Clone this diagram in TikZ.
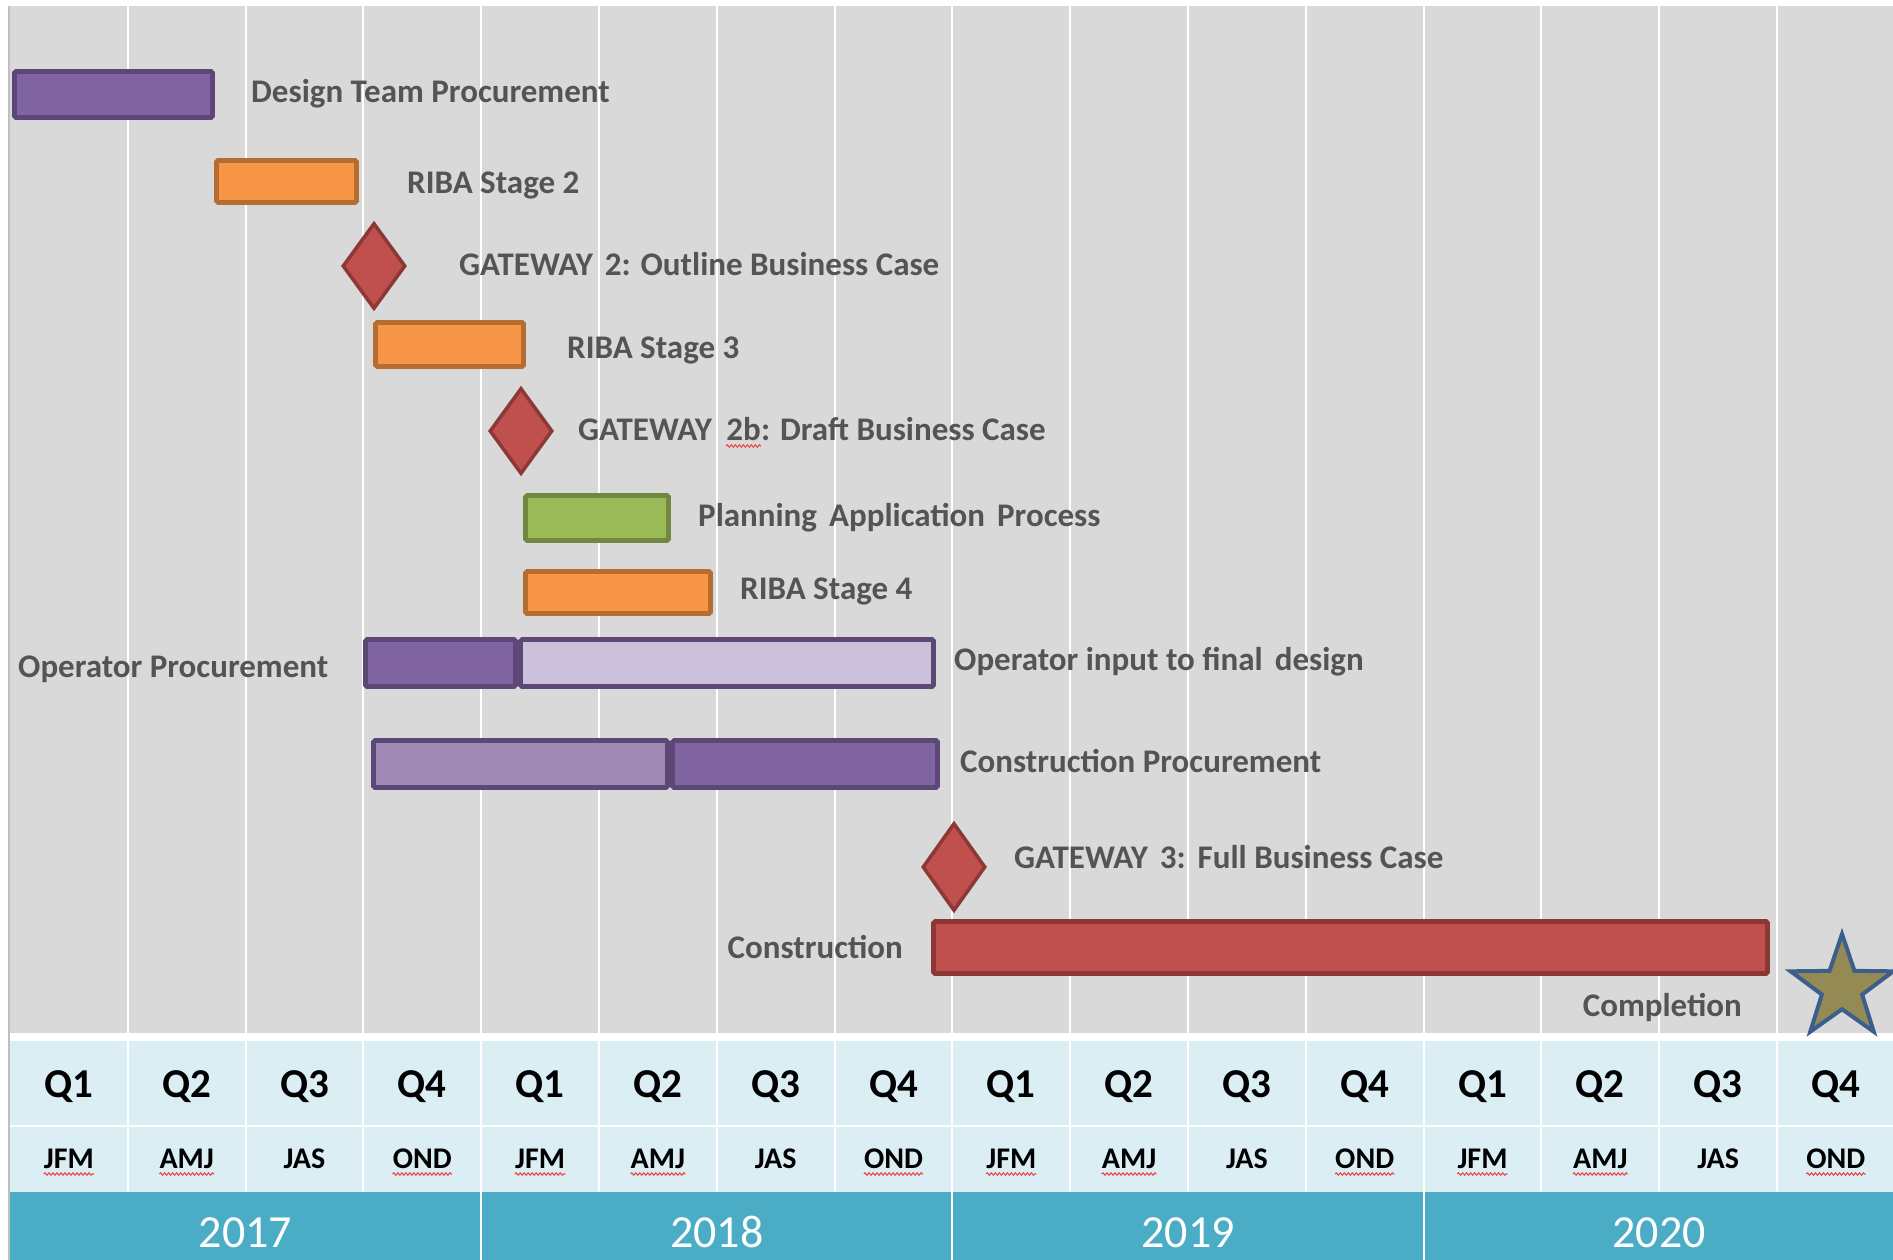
\documentclass[tikz,border=0pt]{standalone}
\usepackage{fontspec}
\setmainfont{Carlito}
\usetikzlibrary{shapes.geometric,decorations.pathmorphing}
\definecolor{bggray}{HTML}{D9D9D9}
\definecolor{edgegray}{HTML}{BFBFBF}
\definecolor{txtgray}{HTML}{545454}
\definecolor{purp}{HTML}{8064A2}
\definecolor{purpdk}{HTML}{5C4776}
\definecolor{purplt}{HTML}{CCC1DA}
\definecolor{purpmd}{HTML}{9E8AB5}
\definecolor{orng}{HTML}{F79646}
\definecolor{orngdk}{HTML}{B66D31}
\definecolor{grn}{HTML}{9BBB59}
\definecolor{grndk}{HTML}{71893F}
\definecolor{rd}{HTML}{C0504D}
\definecolor{rddk}{HTML}{8C3836}
\definecolor{olive}{HTML}{948A54}
\definecolor{starblue}{HTML}{3C5E8C}
\definecolor{hdrlt}{HTML}{DBEEF4}
\definecolor{hdryr}{HTML}{4BACC6}
\definecolor{spell}{HTML}{E8484A}
\begin{document}
\begin{tikzpicture}[x=1pt,y=-1pt,
  gantbar/.style={draw, line width=4.6pt, rounded corners=1.5pt, inner sep=0pt, rectangle},
  purpbar/.style={gantbar, fill=purp, draw=purpdk},
  orngbar/.style={gantbar, fill=orng, draw=orngdk},
  gate/.style={shape=diamond, draw=rddk, fill=rd, line width=3.5pt, inner sep=0pt, minimum width=63pt, minimum height=86pt},
  lbl/.style={anchor=base west, inner sep=0pt, text=txtgray, font=\fontsize{33}{39}\selectfont\bfseries},
  qlbl/.style={anchor=base, inner sep=0pt, text=black, font=\fontsize{41}{46}\selectfont\bfseries},
  mlbl/.style={anchor=base, inner sep=0pt, text=black, font=\fontsize{30}{34}\selectfont\bfseries},
  ylbl/.style={anchor=base, inner sep=0pt, text=white, font=\fontsize{46}{52}\selectfont},
  gridline/.style={draw=white, line width=2pt},
  wavy/.style={draw=spell, line width=1.1pt, decorate, decoration={snake, amplitude=1.2pt, segment length=4pt}}
]
\useasboundingbox (0,0) rectangle (1893,1260);
\fill[white] (0,0) rectangle (1893,1260);
% chart area
\fill[bggray] (8,6) rectangle (1893,1033);
\foreach \k in {1,...,15}
  \draw[gridline] ({10+117.8*\k},6) -- ({10+117.8*\k},1033);
% header
\fill[hdrlt] (10,1041) rectangle (1893,1192);
\draw[gridline] (10,1126) -- (1893,1126);
\foreach \k in {1,...,15}
  \draw[gridline] ({10+117.8*\k},1041) -- ({10+117.8*\k},1192);
\fill[hdryr] (10,1192) rectangle (1893,1260);
\foreach \k in {4,8,12}
  \draw[gridline] ({10+117.8*\k},1192) -- ({10+117.8*\k},1260);
\draw[edgegray, line width=2pt] (9,6) -- (9,1260);
% quarter and month labels
\foreach \k/\q/\m/\w in {0/Q1/JFM/1,1/Q2/AMJ/1,2/Q3/JAS/0,3/Q4/OND/1,
                         4/Q1/JFM/1,5/Q2/AMJ/1,6/Q3/JAS/0,7/Q4/OND/1,
                         8/Q1/JFM/1,9/Q2/AMJ/1,10/Q3/JAS/0,11/Q4/OND/1,
                         12/Q1/JFM/1,13/Q2/AMJ/1,14/Q3/JAS/0,15/Q4/OND/1}{
  \node[qlbl] (q\k) at ({10+117.8*(\k+0.5)},1097) {\q};
  \node[mlbl] (m\k) at ({10+117.8*(\k+0.5)},1168) {\m};
  \ifnum\w=1
    \draw[wavy] ([yshift=-6pt]m\k.base west) -- ([yshift=-6pt]m\k.base east);
  \fi
}
\foreach \k/\y in {0/2017,1/2018,2/2019,3/2020}
  \node[ylbl] (y\y) at ({10+471.2*(\k+0.5)},1247) {\y};
% bars
\node[purpbar, minimum width=198pt, minimum height=46pt] (dtp) at (113.5,94.5) {};
\node[lbl] (dtpl) at (251,103) {Design Team Procurement};
\node[orngbar, minimum width=140pt, minimum height=42pt] (riba2) at (286.5,181.5) {};
\node[lbl] (riba2l) at (407,194) {RIBA Stage 2};
\node[gate] (gw2) at (374,266) {};
\node[lbl] (gw2l) at (459,275) {GATEWAY\hspace{12pt}2: Outline Business Case};
\node[orngbar, minimum width=148pt, minimum height=44pt] (riba3) at (449.5,344.5) {};
\node[lbl] (riba3l) at (567,358) {RIBA Stage 3};
\node[gate] (gw2b) at (521,431) {};
\node[lbl] (gw2bl) at (578,440) {GATEWAY\hspace{14pt}\strut};
\node[lbl] (gw2bn) at (gw2bl.base east) {2b};
\node[lbl] (gw2br) at (gw2bn.base east) {: Draft Business Case};
\draw[wavy] ([yshift=-6pt]gw2bn.base west) -- ([yshift=-6pt]gw2bn.base east);
\node[gantbar, fill=grn, draw=grndk, minimum width=143pt, minimum height=45pt] (pap) at (597,518) {};
\node[lbl] (papl) at (698,526) {Planning\hspace{12pt}Application\hspace{12pt}Process};
\node[orngbar, minimum width=185pt, minimum height=42pt] (riba4) at (618,592.5) {};
\node[lbl] (riba4l) at (740,599) {RIBA Stage 4};
\node[purpbar, fill=purplt, minimum width=413pt, minimum height=47pt] (opB) at (727,663) {};
\node[purpbar, minimum width=150pt, minimum height=47pt] (opA) at (440.5,663) {};
\node[lbl] (opAl) at (18,677) {Operator Procurement};
\node[lbl] (opBl) at (954,670.5) {Operator input to final\hspace{12pt}design};
\node[purpbar, minimum width=265pt, minimum height=47pt] (cpB) at (805,764) {};
\node[purpbar, fill=purpmd, minimum width=294pt, minimum height=47pt] (cpA) at (520.5,764) {};
\node[lbl] (cpl) at (960,772) {Construction Procurement};
\node[gate, minimum height=88pt] (gw3) at (954,867) {};
\node[lbl] (gw3l) at (1014,868.5) {GATEWAY\hspace{12pt}3:\hspace{12pt}Full Business Case};
\node[gantbar, fill=rd, draw=rddk, minimum width=834pt, minimum height=52pt] (cons) at (1350.5,947.5) {};
\node[lbl, anchor=base east] (consl) at (903,958) {Construction};
\node[star, star points=5, star point ratio=2.55, draw=starblue, fill=olive, line width=4pt, inner sep=0pt, minimum size=108pt] (done) at (1842,988) {};
\node[lbl, anchor=base east] (donel) at (1742,1016) {Completion};
\end{tikzpicture}
\end{document}
